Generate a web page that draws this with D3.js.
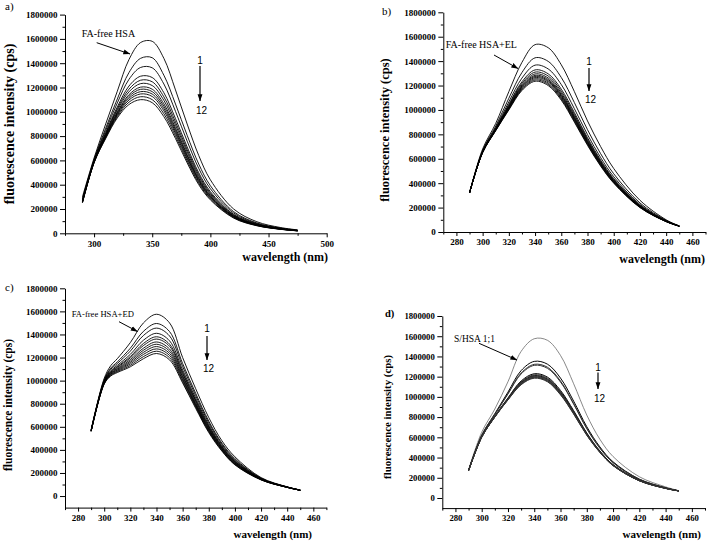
<!DOCTYPE html>
<html><head><meta charset="utf-8">
<script src="https://cdn.jsdelivr.net/npm/d3@7"></script>
<style>body{margin:0;background:#fff}svg{display:block}</style>
</head><body>
<script>
// ---------- data ----------
const yTickValues = [0,200000,400000,600000,800000,1000000,1200000,1400000,1600000,1800000];
const yMinorValues = [100000,300000,500000,700000,900000,1100000,1300000,1500000,1700000];
const xTicksA = [300,350,400,450,500];
const xMinorA = [275,325,375,425,475];
const xTicksBCD = [280,300,320,340,360,380,400,420,440,460];
const xMinorBCD = [270,290,310,330,350,370,390,410,430,450,470];

const wavelengthsA = [290,300,310,320,330,340,350,360,370,380,390,400,420,440,460,475];
const seriesA = [
 [300e3,620e3,900e3,1170e3,1430e3,1570e3,1580e3,1440e3,1180e3,900e3,640e3,440e3,200e3,95e3,48e3,28e3],
 [286e3,608e3,865e3,1106e3,1323e3,1440e3,1445e3,1301e3,1064e3,807e3,570e3,392e3,178e3,85e3,44e3,26e3],
 [278e3,602e3,847e3,1073e3,1267e3,1365e3,1362e3,1229e3,1004e3,759e3,534e3,367e3,167e3,80e3,41e3,24e3],
 [271e3,596e3,829e3,1040e3,1212e3,1293e3,1282e3,1157e3,944e3,711e3,498e3,343e3,156e3,76e3,39e3,23e3],
 [267e3,594e3,821e3,1025e3,1186e3,1260e3,1247e3,1123e3,916e3,689e3,482e3,331e3,151e3,73e3,38e3,23e3],
 [264e3,591e3,814e3,1012e3,1164e3,1232e3,1216e3,1094e3,892e3,670e3,467e3,321e3,146e3,71e3,37e3,22e3],
 [261e3,589e3,806e3,998e3,1141e3,1203e3,1186e3,1066e3,868e3,650e3,453e3,311e3,142e3,69e3,36e3,22e3],
 [259e3,587e3,802e3,990e3,1127e3,1185e3,1166e3,1046e3,852e3,638e3,443e3,305e3,139e3,68e3,36e3,21e3],
 [257e3,586e3,797e3,981e3,1112e3,1166e3,1146e3,1027e3,836e3,625e3,434e3,298e3,136e3,67e3,35e3,21e3],
 [255e3,584e3,792e3,972e3,1097e3,1147e3,1126e3,1008e3,820e3,612e3,424e3,292e3,133e3,65e3,35e3,21e3],
 [253e3,582e3,786e3,961e3,1079e3,1124e3,1100e3,984e3,800e3,596e3,412e3,283e3,129e3,64e3,34e3,20e3],
 [250e3,580e3,780e3,950e3,1060e3,1100e3,1075e3,960e3,780e3,580e3,400e3,275e3,125e3,62e3,33e3,20e3]
];

const wavelengthsB = [290,300,310,320,330,340,350,360,370,380,390,400,420,440,450];
const seriesB = [
 [320e3,680e3,890e3,1150e3,1390e3,1535e3,1510e3,1370e3,1150e3,910e3,700e3,520e3,260e3,100e3,50e3],
 [320e3,669e3,868e3,1096e3,1307e3,1427e3,1398e3,1266e3,1060e3,838e3,642e3,477e3,238e3,95e3,49e3],
 [320e3,663e3,856e3,1066e3,1261e3,1367e3,1336e3,1208e3,1010e3,798e3,610e3,453e3,226e3,92e3,49e3],
 [320e3,659e3,849e3,1047e3,1231e3,1328e3,1296e3,1170e3,978e3,772e3,590e3,437e3,219e3,90e3,49e3],
 [320e3,658e3,845e3,1038e3,1218e3,1310e3,1278e3,1153e3,963e3,760e3,580e3,430e3,215e3,89e3,49e3],
 [320e3,656e3,842e3,1030e3,1206e3,1295e3,1262e3,1138e3,950e3,750e3,572e3,424e3,212e3,88e3,48e3],
 [320e3,655e3,840e3,1024e3,1197e3,1283e3,1250e3,1126e3,940e3,742e3,566e3,419e3,210e3,87e3,48e3],
 [320e3,654e3,838e3,1020e3,1190e3,1274e3,1240e3,1118e3,933e3,736e3,561e3,416e3,208e3,87e3,48e3],
 [320e3,653e3,836e3,1015e3,1183e3,1265e3,1231e3,1109e3,925e3,730e3,556e3,412e3,206e3,87e3,48e3],
 [320e3,652e3,834e3,1010e3,1175e3,1255e3,1220e3,1099e3,917e3,723e3,551e3,408e3,204e3,86e3,48e3],
 [320e3,651e3,832e3,1005e3,1168e3,1245e3,1210e3,1090e3,908e3,717e3,545e3,404e3,202e3,85e3,48e3],
 [320e3,650e3,830e3,1000e3,1160e3,1235e3,1200e3,1080e3,900e3,710e3,540e3,400e3,200e3,85e3,48e3]
];

const wavelengthsC = [290,300,305,310,320,330,340,350,360,370,380,390,400,420,440,450];
const seriesC = [
 [575e3,1020e3,1130e3,1190e3,1330e3,1500e3,1575e3,1500e3,1200e3,930e3,680e3,480e3,340e3,160e3,80e3,52e3],
 [571e3,1008e3,1109e3,1162e3,1281e3,1427e3,1495e3,1425e3,1148e3,890e3,649e3,459e3,324e3,155e3,79e3,52e3],
 [570e3,1002e3,1098e3,1148e3,1256e3,1391e3,1455e3,1387e3,1122e3,870e3,634e3,448e3,315e3,153e3,78e3,51e3],
 [568e3,996e3,1086e3,1132e3,1228e3,1350e3,1410e3,1345e3,1093e3,848e3,617e3,436e3,306e3,150e3,78e3,51e3],
 [566e3,991e3,1078e3,1121e3,1209e3,1322e3,1380e3,1316e3,1074e3,832e3,605e3,428e3,300e3,149e3,77e3,51e3],
 [566e3,988e3,1073e3,1114e3,1197e3,1304e3,1360e3,1298e3,1061e3,823e3,598e3,423e3,296e3,147e3,77e3,51e3],
 [564e3,985e3,1066e3,1105e3,1182e3,1281e3,1335e3,1274e3,1045e3,810e3,588e3,416e3,291e3,146e3,76e3,51e3],
 [564e3,982e3,1061e3,1098e3,1169e3,1263e3,1315e3,1255e3,1032e3,800e3,581e3,411e3,286e3,145e3,76e3,50e3],
 [563e3,979e3,1056e3,1091e3,1157e3,1245e3,1295e3,1236e3,1019e3,790e3,573e3,406e3,282e3,144e3,76e3,50e3],
 [562e3,976e3,1051e3,1084e3,1145e3,1227e3,1275e3,1218e3,1006e3,780e3,565e3,401e3,278e3,142e3,76e3,50e3],
 [561e3,973e3,1045e3,1077e3,1132e3,1208e3,1255e3,1199e3,993e3,770e3,558e3,395e3,274e3,141e3,75e3,50e3],
 [560e3,970e3,1040e3,1070e3,1120e3,1190e3,1235e3,1180e3,980e3,760e3,550e3,390e3,270e3,140e3,75e3,50e3]
];

const wavelengthsD = [290,300,310,320,330,340,350,360,370,380,390,400,420,440,450];
const seriesD = [
 [280e3,650e3,880e3,1150e3,1450e3,1575e3,1560e3,1410e3,1130e3,820e3,580e3,410e3,210e3,110e3,72e3],
 [274e3,621e3,834e3,1047e3,1260e3,1351e3,1324e3,1186e3,958e3,705e3,505e3,358e3,187e3,101e3,71e3],
 [274e3,618e3,828e3,1033e3,1236e3,1322e3,1294e3,1157e3,935e3,690e3,496e3,352e3,184e3,100e3,71e3],
 [273e3,616e3,826e3,1029e3,1227e3,1312e3,1283e3,1147e3,928e3,685e3,492e3,349e3,183e3,100e3,71e3],
 [271e3,606e3,809e3,990e3,1157e3,1229e3,1196e3,1064e3,864e3,643e3,465e3,330e3,175e3,97e3,70e3],
 [271e3,604e3,807e3,986e3,1149e3,1219e3,1186e3,1054e3,856e3,638e3,461e3,328e3,174e3,96e3,70e3],
 [271e3,603e3,805e3,981e3,1141e3,1210e3,1176e3,1045e3,849e3,633e3,458e3,326e3,173e3,96e3,70e3],
 [271e3,603e3,804e3,979e3,1137e3,1205e3,1171e3,1040e3,845e3,630e3,457e3,325e3,172e3,96e3,70e3],
 [270e3,602e3,803e3,977e3,1133e3,1200e3,1166e3,1035e3,841e3,628e3,455e3,323e3,172e3,96e3,70e3],
 [270e3,601e3,802e3,975e3,1128e3,1195e3,1160e3,1030e3,838e3,625e3,453e3,322e3,171e3,95e3,70e3],
 [270e3,601e3,801e3,972e3,1124e3,1190e3,1155e3,1025e3,834e3,623e3,452e3,321e3,171e3,95e3,70e3],
 [270e3,600e3,800e3,970e3,1120e3,1185e3,1150e3,1020e3,830e3,620e3,450e3,320e3,170e3,95e3,70e3]
];

const panelLabels = ["a)","b)","c)","d)"];
const annotations = ["FA-free HSA","FA-free HSA+EL","FA-free HSA+ED","S/HSA 1;1"];
const xTitle = "wavelength (nm)";
const yTitle = "fluorescence intensity (cps)";

// ---------- layout ----------
const panels = [
 {wl:wavelengthsA, series:seriesA, xDomain:[275,500], yDomain:[0,1800000], xTicks:xTicksA, xMinor:xMinorA,
  left:65, right:326.7, bottom:233.3, top:14.6, tickFs:9,
  label:{x:5,y:10,bold:false,fs:11}, yT:{x:9.5,y:124,fs:14}, xT:{x:328,y:261,fs:12},
  ann:{x:81.7,y:36.5,fs:10,ax1:96.7,ay1:42.7,ax2:130,ay2:54},
  num:{x:200,y1:64,a1:66,a2:101,y12:113.5,fs:10},
  colors:() => '#000', widths:() => 0.9},
 {wl:wavelengthsB, series:seriesB, xDomain:[270,470], yDomain:[0,1800000], xTicks:xTicksBCD, xMinor:xMinorBCD,
  left:443.3, right:705.5, bottom:232, top:12.3, tickFs:9,
  label:{x:382,y:15,bold:false,fs:11}, yT:{x:385,y:130,fs:12.5}, xT:{x:705,y:263,fs:12},
  ann:{x:445.7,y:47.5,fs:10,ax1:494,ay1:55,ax2:518,ay2:68.5},
  num:{x:589,y1:64.5,a1:68,a2:91,y12:103,fs:10},
  colors:() => '#000', widths:() => 0.9},
 {wl:wavelengthsC, series:seriesC, xDomain:[270,470], yDomain:[-100000,1800000], xTicks:xTicksBCD, xMinor:xMinorBCD,
  left:65, right:326.4, bottom:507.6, top:288.3, tickFs:9,
  label:{x:5,y:291,bold:false,fs:11}, yT:{x:8,y:405,fs:11.5}, xT:{x:312,y:537.5,fs:11},
  ann:{x:71.7,y:316.5,fs:8.6,ax1:119,ay1:321.7,ax2:137.5,ay2:331.5},
  num:{x:207,y1:332,a1:336,a2:360,y12:372,fs:10},
  colors:() => '#000', widths:() => 0.9},
 {wl:wavelengthsD, series:seriesD, xDomain:[270,470], yDomain:[-100000,1800000], xTicks:xTicksBCD, xMinor:xMinorBCD,
  left:442.3, right:705, bottom:508.1, top:316, tickFs:8.7,
  label:{x:385,y:317,bold:true,fs:10.5}, yT:{x:387,y:417,fs:10.8}, xT:{x:701,y:537.5,fs:11},
  ann:{x:454,y:341.5,fs:9.5,ax1:479,ay1:343.3,ax2:517,ay2:360},
  num:{x:598,y1:370.5,a1:372.5,a2:389,y12:401.5,fs:10},
  colors:(i) => (i===0 ? '#6a6a6a' : (i===1||i===4||i===6 ? '#000' : '#333')),
  widths:(i) => (i===0 ? 0.8 : 1.0)}
];

// ---------- drawing ----------
const svg = d3.select('body').append('svg').attr('width',708).attr('height',543)
  .style('font-family','"Liberation Serif", "Times New Roman", serif');
svg.append('rect').attr('width',708).attr('height',543).attr('fill','#fff');
svg.append('defs').append('marker').attr('id','ah').attr('viewBox','0 0 10 10')
  .attr('refX',9.5).attr('refY',5).attr('markerWidth',7).attr('markerHeight',7)
  .attr('markerUnits','userSpaceOnUse').attr('orient','auto')
  .append('path').attr('d','M0,1.5L10,5L0,8.5Z').attr('fill','#000');

panels.forEach((p, pi) => {
  const x = d3.scaleLinear().domain(p.xDomain).range([p.left, p.right]);
  const y = d3.scaleLinear().domain(p.yDomain).range([p.bottom, p.top]);
  const g = svg.append('g');

  // curves
  const line = d3.line().x((d,i) => x(p.wl[i])).y(d => y(d)).curve(d3.curveCatmullRom.alpha(0.5));
  g.append('g').selectAll('path').data(p.series).join('path')
    .attr('d', line).attr('fill','none')
    .attr('stroke', (d,i) => p.colors(i)).attr('stroke-width', (d,i) => p.widths(i));

  // x axis
  const xa = g.append('g').attr('transform',`translate(0,${p.bottom})`)
    .call(d3.axisBottom(x).tickValues(p.xTicks).tickSize(4).tickSizeOuter(0).tickPadding(3).tickFormat(d3.format('d')));
  g.append('g').attr('transform',`translate(0,${p.bottom})`)
    .call(d3.axisBottom(x).tickValues(p.xMinor).tickSize(2.5).tickFormat(''))
    .call(s => s.select('.domain').remove());
  // y axis
  const ya = g.append('g').attr('transform',`translate(${p.left},0)`)
    .call(d3.axisLeft(y).tickValues(yTickValues).tickSize(5).tickSizeOuter(0).tickPadding(2.5).tickFormat(d3.format('d')));
  g.append('g').attr('transform',`translate(${p.left},0)`)
    .call(d3.axisLeft(y).tickValues(yMinorValues).tickSize(2.5).tickFormat(''))
    .call(s => s.select('.domain').remove());

  g.selectAll('.domain, .tick line').attr('stroke','#000').attr('stroke-width',1);
  [xa, ya].forEach(a => a.selectAll('text').attr('font-family','"Liberation Serif", serif')
    .attr('font-weight','bold').attr('font-size',p.tickFs).attr('fill','#000'));

  // titles
  g.append('text').attr('x',p.xT.x).attr('y',p.xT.y).attr('text-anchor','end')
    .attr('font-weight','bold').attr('font-size',p.xT.fs).text(xTitle);
  g.append('text').attr('transform',`translate(${p.yT.x},${p.yT.y}) rotate(-90)`)
    .attr('text-anchor','middle').attr('dominant-baseline','central')
    .attr('font-weight','bold').attr('font-size',p.yT.fs).text(yTitle);
  // panel label
  g.append('text').attr('x',p.label.x).attr('y',p.label.y)
    .attr('font-weight',p.label.bold ? 'bold' : 'normal').attr('font-size',p.label.fs).text(panelLabels[pi]);

  // annotation with arrow
  g.append('text').attr('x',p.ann.x).attr('y',p.ann.y).attr('font-size',p.ann.fs).text(annotations[pi]);
  g.append('line').attr('x1',p.ann.ax1).attr('y1',p.ann.ay1).attr('x2',p.ann.ax2).attr('y2',p.ann.ay2)
    .attr('stroke','#000').attr('stroke-width',1).attr('marker-end','url(#ah)');

  // 1 -> 12 arrow
  const nf = 'Liberation Sans, Arial, sans-serif';
  g.append('text').attr('x',p.num.x).attr('y',p.num.y1).attr('text-anchor','middle')
    .attr('font-family',nf).attr('font-size',p.num.fs).text('1');
  g.append('line').attr('x1',p.num.x).attr('y1',p.num.a1).attr('x2',p.num.x).attr('y2',p.num.a2)
    .attr('stroke','#000').attr('stroke-width',1.2).attr('marker-end','url(#ah)');
  g.append('text').attr('x',p.num.x + 1.5).attr('y',p.num.y12).attr('text-anchor','middle')
    .attr('font-family',nf).attr('font-size',p.num.fs).text('12');
});
</script>
</body></html>
